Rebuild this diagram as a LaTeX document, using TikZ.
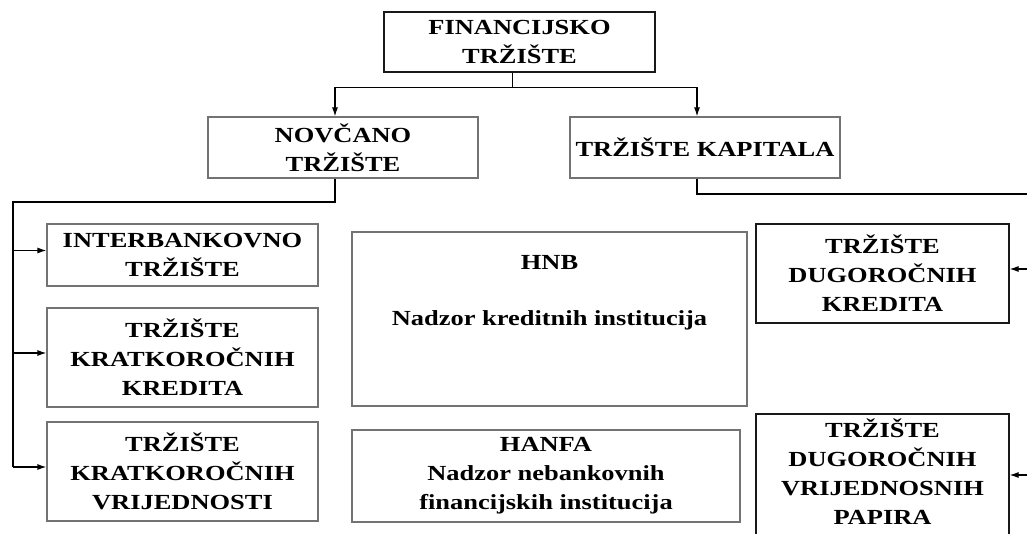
\documentclass[tikz,border=0pt]{standalone}
\usepackage{fontspec}
\setmainfont{Liberation Serif}[FakeStretch=1.23]
\usetikzlibrary{arrows.meta}

\begin{document}
\begin{tikzpicture}[x=1pt, y=-1pt, line width=1.2pt,
		tbox/.style={draw=black!55, fill=white, align=center, inner sep=2pt, font=\bfseries\fontsize{21.5}{29}\selectfont},
		darkbox/.style={tbox, draw=black!90},
		arr/.style={-{Latex[length=9pt,width=6pt]}}]
	\useasboundingbox (0,0) rectangle (1027,534);
	\node[darkbox, minimum width=271pt, minimum height=60pt] (fin) at (519.5,42) {FINANCIJSKO\\TRŽIŠTE};
	\node[tbox, minimum width=270pt, minimum height=61pt] (novcano) at (343,147.5) {NOVČANO\\TRŽIŠTE};
	\node[tbox, minimum width=270pt, minimum height=61pt] (kapital) at (705,147.5) {TRŽIŠTE KAPITALA};
	\node[tbox, minimum width=271pt, minimum height=62pt] (inter) at (182.5,255) {INTERBANKOVNO\\TRŽIŠTE};
	\node[tbox, minimum width=271pt, minimum height=99pt] (kkred) at (182.5,357.5) {TRŽIŠTE\\KRATKOROČNIH\\KREDITA};
	\node[tbox, minimum width=271pt, minimum height=99pt] (kvrij) at (182.5,471.5) {TRŽIŠTE\\KRATKOROČNIH\\VRIJEDNOSTI};
	\node[tbox, minimum width=395pt, minimum height=174pt] (hnb) at (549.5,319) {};
	\node[tbox, draw=none, fill=none, anchor=north] (hnbtxt) at ([yshift=-21pt]hnb.north) {HNB\\[27pt]Nadzor kreditnih institucija};
	\node[tbox, minimum width=388pt, minimum height=92pt] (hanfa) at (546,476) {HANFA\\Nadzor nebankovnih\\financijskih institucija};
	\node[darkbox, minimum width=253pt, minimum height=99pt] (dkred) at (882.5,273.5) {TRŽIŠTE\\DUGOROČNIH\\KREDITA};
	\node[darkbox, minimum width=253pt, minimum height=136pt, text depth=20pt] (dvp) at (882.5,482) {TRŽIŠTE\\DUGOROČNIH\\VRIJEDNOSNIH\\PAPIRA};

	\draw ([xshift=-7pt]fin.south) -- ++(0,15) coordinate (fork);
	\draw[arr] (fork) -| ([xshift=-8pt]novcano.north);
	\draw[arr] (fork) -| ([xshift=-8pt]kapital.north);

	\coordinate (lbus) at (13,202);
	\draw ([xshift=-8pt]novcano.south) |- (lbus) -- ([yshift=4.5pt]lbus |- kvrij.west);
	\foreach \n in {inter,kkred,kvrij}
		\draw[arr] ([yshift=4.5pt]lbus |- \n.west) -- ([yshift=4.5pt]\n.west);

	\coordinate (rbus) at (1036,194);
	\draw ([xshift=-8pt]kapital.south) |- (rbus) -- (rbus |- dvp.east);
	\foreach \n/\s in {dkred/4.5,dvp/7}
		\draw[arr] ([yshift=\s pt]rbus |- \n.east) -- ([yshift=\s pt]\n.east);
\end{tikzpicture}
\end{document}
